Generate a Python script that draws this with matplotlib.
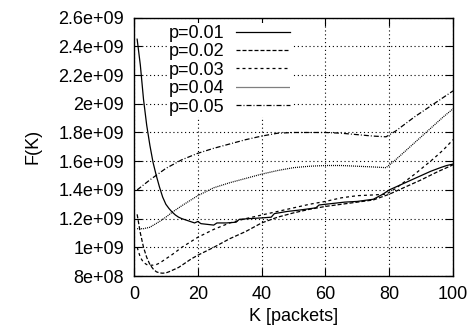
import matplotlib
matplotlib.use("Agg")
import matplotlib.pyplot as plt
from matplotlib.ticker import FuncFormatter, MultipleLocator

plt.rcParams['font.family'] = ['Liberation Sans', 'DejaVu Sans']

# values, F(K) in units of 1e9
k_01 = [1, 2, 3, 4, 5, 6, 7, 8, 9, 10, 11, 12, 13, 14, 15, 17, 19, 20, 21, 23, 25,
        26, 29, 32, 33, 36, 40, 43, 44, 48, 52, 57, 58, 62, 66, 70, 75, 78, 80,
        83, 86, 90, 93, 96, 98, 100]
f_01 = [2.45, 2.27, 2.03, 1.85, 1.71, 1.59, 1.50, 1.42, 1.35, 1.30, 1.27, 1.245,
        1.225, 1.21, 1.20, 1.185, 1.17, 1.18, 1.165, 1.16, 1.155, 1.17, 1.17, 1.175,
        1.195, 1.20, 1.205, 1.21, 1.235, 1.25, 1.26, 1.275, 1.295, 1.305, 1.315,
        1.32, 1.335, 1.37, 1.40, 1.43, 1.46, 1.50, 1.53, 1.555, 1.57, 1.58]

k_02 = [1, 2, 3, 4, 5, 6, 7, 8, 9, 10, 11, 12, 14, 16, 18, 20, 25, 30, 35, 40, 45,
        50, 55, 60, 65, 70, 75, 80, 85, 90, 95, 100]
f_02 = [1.23, 1.10, 1.0, 0.93, 0.88, 0.85, 0.83, 0.822, 0.82, 0.822, 0.83, 0.84,
        0.86, 0.89, 0.92, 0.945, 1.0, 1.06, 1.11, 1.17, 1.21, 1.24, 1.265, 1.285,
        1.30, 1.315, 1.33, 1.37, 1.42, 1.47, 1.525, 1.575]

k_03 = [1, 2, 3, 4, 5, 6, 7, 8, 10, 12, 15, 20, 25, 30, 35, 40, 45, 50, 55, 60, 65,
        70, 75, 79, 82, 85, 88, 91, 94, 97, 100]
f_03 = [1.0, 0.93, 0.895, 0.88, 0.875, 0.876, 0.88, 0.89, 0.92, 0.95, 1.0, 1.07,
        1.125, 1.17, 1.2, 1.225, 1.25, 1.275, 1.3, 1.32, 1.345, 1.36, 1.365, 1.37,
        1.41, 1.46, 1.51, 1.565, 1.62, 1.68, 1.75]

k_04 = [1, 3, 5, 8, 10, 12, 15, 20, 25, 30, 35, 40, 45, 50, 55, 60, 65, 70, 75, 79,
        82, 85, 88, 91, 94, 97, 100]
f_04 = [1.13, 1.13, 1.14, 1.18, 1.21, 1.245, 1.29, 1.36, 1.415, 1.45, 1.48, 1.51,
        1.535, 1.555, 1.565, 1.57, 1.57, 1.565, 1.56, 1.555, 1.61, 1.67, 1.73, 1.79,
        1.85, 1.91, 1.965]

k_05 = [1, 5, 10, 15, 20, 25, 30, 35, 40, 45, 50, 55, 60, 65, 70, 75, 79, 82, 85,
        88, 91, 94, 97, 100]
f_05 = [1.40, 1.47, 1.55, 1.61, 1.655, 1.69, 1.72, 1.75, 1.775, 1.795, 1.80, 1.80,
        1.80, 1.795, 1.785, 1.775, 1.77, 1.81, 1.86, 1.91, 1.955, 2.00, 2.045, 2.09]

labels = ['p=0.01', 'p=0.02', 'p=0.03', 'p=0.04', 'p=0.05']
series = [(k_01, f_01), (k_02, f_02), (k_03, f_03), (k_04, f_04), (k_05, f_05)]
styles = ['-', (0, (3.2, 1.6)), (0, (2.4, 2.4)), (0, (0.8, 0.8)),
          (0, (4, 1.6, 0.8, 1.6))]

fig = plt.figure(figsize=(4.70, 3.33), dpi=100)
ax = fig.add_axes([0.285, 0.171, 0.679, 0.776])

for (k, f), lab, ls in zip(series, labels, styles):
    ax.plot(k, [v * 1e9 for v in f], color='black', linestyle=ls, lw=0.9, label=lab)

ax.set_xlim(0, 100)
ax.set_ylim(8e8, 2.6e9)
ax.xaxis.set_major_locator(MultipleLocator(20))
ax.yaxis.set_major_locator(MultipleLocator(2e8))
ax.yaxis.set_major_formatter(FuncFormatter(lambda v, p: '%g' % v))
ax.grid(True, color='black', linestyle=(0, (1, 2.5)), lw=0.8)
ax.tick_params(direction='in', length=6, top=True, right=True, labelsize=13,
               pad=7)
for s in ax.spines.values():
    s.set_linewidth(1.0)

ax.set_xlabel('K [packets]', fontsize=13, labelpad=4)
ax.set_ylabel('F(K)', fontsize=13, labelpad=12)

leg = ax.legend(loc='upper left', bbox_to_anchor=(0.105, 0.979), borderaxespad=0,
                markerfirst=False, fontsize=13, handlelength=3.0,
                handletextpad=0.6, labelspacing=0.08, borderpad=0.1,
                frameon=True, fancybox=False)
leg.get_frame().set_edgecolor('none')
leg.get_frame().set_facecolor('white')
leg.get_frame().set_alpha(1)

fig.savefig('out.png', dpi=100)
